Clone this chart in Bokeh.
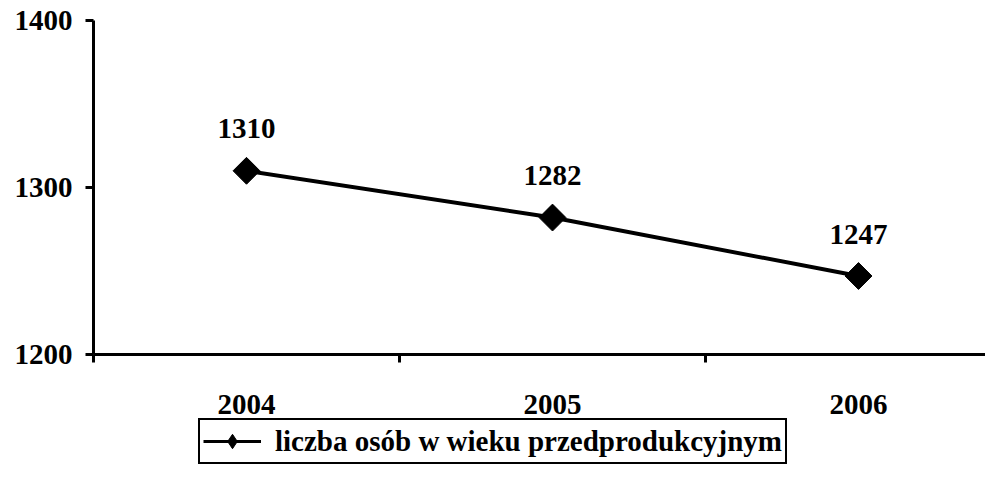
import math
from bokeh.plotting import figure
from bokeh.layouts import column
from bokeh.models import FixedTicker, Legend, LegendItem, ColumnDataSource, Range1d
from bokeh.core.properties import value
from bokeh.embed import file_html
from bokeh.resources import INLINE

years = ["2004", "2005", "2006"]
values = [1310, 1282, 1247]
y_ticks = [1200, 1300, 1400]
series_name = "liczba osób w wieku przedprodukcyjnym"

FONT = "Liberation Serif"
xs = list(range(len(years)))
src = ColumnDataSource(dict(x=xs, y=values, lab=[str(v) for v in values]))

p = figure(frame_width=892, frame_height=334,
           output_backend="svg", toolbar_location=None,
           x_range=Range1d(-0.5, 2.415), y_range=Range1d(1200, 1400),
           min_border_left=93, min_border_right=0, min_border_top=20, min_border_bottom=0)
p.outline_line_color = None
p.grid.grid_line_color = None
p.background_fill_color = "white"

ln = p.line("x", "y", source=src, line_color="black", line_width=4)
mk = p.scatter("x", "y", source=src, marker="square", size=19, angle=math.pi / 4,
               fill_color="black", line_color="black")
p.text("x", "y", text="lab", source=src, y_offset=-42, text_align="center",
       text_baseline="middle", text_font=value(FONT), text_font_style="bold",
       text_font_size="29px", text_color="black")

xa = p.xaxis[0]
xa.ticker = FixedTicker(ticks=xs, minor_ticks=[-0.5, 0.5, 1.5])
xa.major_label_overrides = {i: y for i, y in enumerate(years)}
xa.major_tick_line_color = None
xa.major_tick_out = 0
xa.major_tick_in = 0
xa.minor_tick_out = 8
xa.minor_tick_in = 0
xa.minor_tick_line_width = 3
xa.minor_tick_line_color = "black"
xa.axis_line_width = 3
xa.major_label_standoff = 32
xa.major_label_text_font = FONT
xa.major_label_text_font_style = "bold"
xa.major_label_text_font_size = "29px"
xa.major_label_text_color = "black"

ya = p.yaxis[0]
ya.ticker = FixedTicker(ticks=y_ticks, minor_ticks=[])
ya.major_tick_out = 8
ya.major_tick_in = 0
ya.major_tick_line_width = 3
ya.axis_line_width = 3
ya.major_label_standoff = 13
ya.major_label_text_font = FONT
ya.major_label_text_font_style = "bold"
ya.major_label_text_font_size = "29px"
ya.major_label_text_color = "black"

# legend strip below the chart (its series renderers lie outside its view)
lg = figure(width=985, height=51, output_backend="svg", toolbar_location=None,
            x_range=Range1d(100, 101), y_range=Range1d(0, 1),
            x_axis_location=None, y_axis_location=None,
            min_border_left=0, min_border_right=0, min_border_top=0, min_border_bottom=0)
lg.outline_line_color = None
lg.grid.grid_line_color = None
lln = lg.line("x", "y", source=src, line_color="black", line_width=3)
ldm = lg.scatter("x", "y", source=src, marker="diamond", size=20,
                 fill_color="black", line_color="black")

legend = Legend(items=[LegendItem(label=series_name, renderers=[lln, ldm])],
                location=(105, 3), orientation="horizontal",
                border_line_color="black", border_line_width=2, border_line_alpha=1,
                label_text_font=FONT, label_text_font_style="bold",
                label_text_font_size="29px", label_text_color="black",
                glyph_width=58, glyph_height=36, label_height=34,
                padding=3, margin=0, label_standoff=14, background_fill_alpha=1)
lg.add_layout(legend, "center")

page = column(p, lg, spacing=0)
open("out.html", "w").write(file_html(page, INLINE))
